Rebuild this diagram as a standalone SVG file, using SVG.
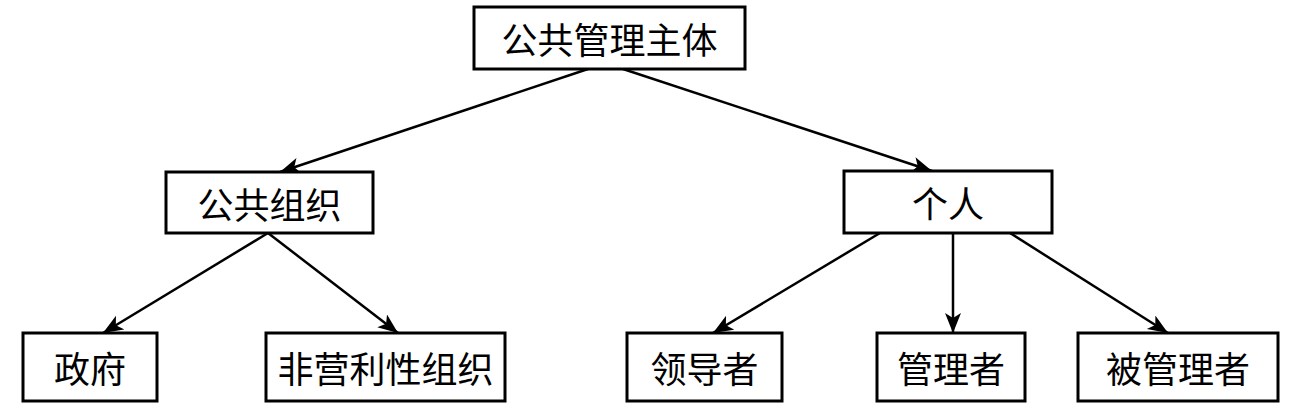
<svg xmlns="http://www.w3.org/2000/svg" width="1299" height="408" viewBox="0 0 1299 408">
<style>
.box{fill:#fff;stroke:#000;stroke-width:3}
.t{font-family:"Noto Sans CJK SC","Noto Sans",sans-serif;font-size:36px;fill:#000;text-anchor:middle;dominant-baseline:central}
.c{stroke:#000;stroke-width:2.5;fill:none;marker-end:url(#ah)}
</style>
<defs>
<marker id="ah" markerUnits="userSpaceOnUse" markerWidth="22" markerHeight="18" refX="20" refY="8" orient="auto">
<path d="M0,0 L20,8 L0,16 L5,8 z" fill="#000"/>
</marker>
</defs>
<rect width="1299" height="408" fill="#fff"/>
<g id="connectors">
<line class="c" x1="588" y1="69" x2="280" y2="172"/>
<line class="c" x1="623" y1="69" x2="932" y2="171"/>
<line class="c" x1="268" y1="233" x2="103" y2="333"/>
<line class="c" x1="268" y1="233" x2="398" y2="333"/>
<line class="c" x1="880" y1="233" x2="713" y2="333"/>
<line class="c" x1="953" y1="233" x2="953" y2="333"/>
<line class="c" x1="1010" y1="233" x2="1168" y2="333"/>
</g>
<g id="n-root"><rect class="box" x="474" y="7" width="271" height="62"/><text class="t" x="609.5" y="38">公共管理主体</text></g>
<g id="n-org"><rect class="box" x="166" y="172" width="207" height="61"/><text class="t" x="269.5" y="203">公共组织</text></g>
<g id="n-person"><rect class="box" x="844" y="171" width="208" height="62"/><text class="t" x="948" y="202">个人</text></g>
<g id="n-gov"><rect class="box" x="23" y="333" width="134" height="68"/><text class="t" x="90" y="367">政府</text></g>
<g id="n-npo"><rect class="box" x="266" y="333" width="239" height="68"/><text class="t" x="385.5" y="367">非营利性组织</text></g>
<g id="n-leader"><rect class="box" x="627" y="333" width="155" height="68"/><text class="t" x="704.5" y="367">领导者</text></g>
<g id="n-manager"><rect class="box" x="877" y="333" width="148" height="68"/><text class="t" x="951" y="367">管理者</text></g>
<g id="n-managed"><rect class="box" x="1078" y="333" width="200" height="68"/><text class="t" x="1178" y="367">被管理者</text></g>
</svg>
